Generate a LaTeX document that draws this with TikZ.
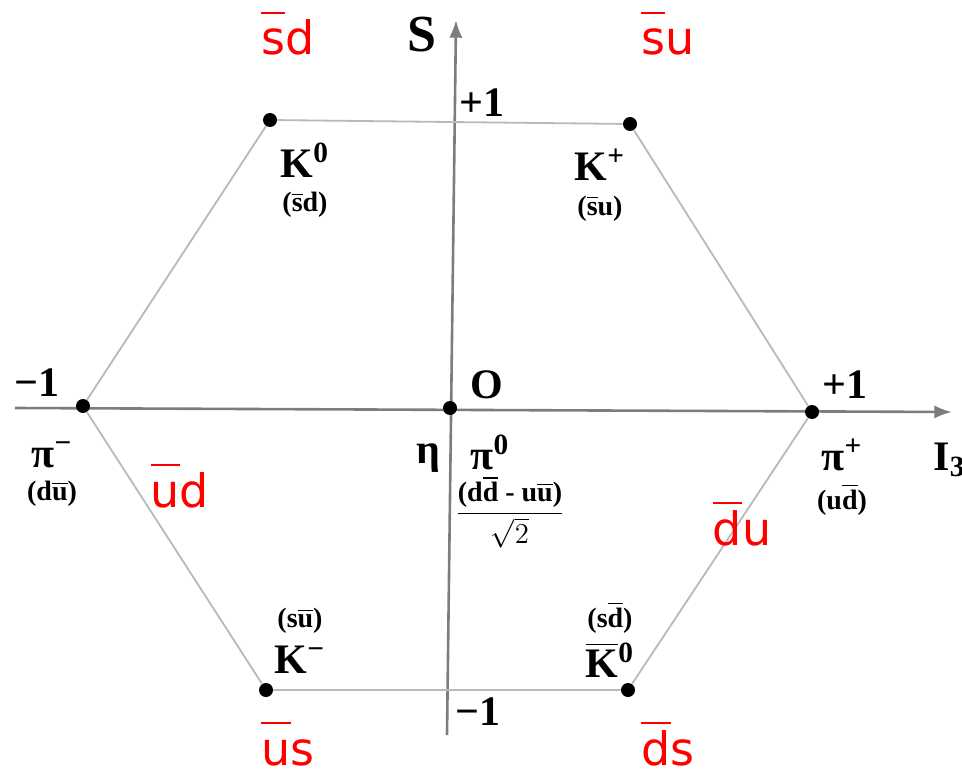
\documentclass[tikz,border=0pt]{standalone}
\usepackage{amsmath}
\usepackage{fontspec}
\setmainfont{Liberation Serif}
\newfontfamily\quarkfont{DejaVu Sans}
\usetikzlibrary{arrows.meta,positioning}
\definecolor{axisgray}{RGB}{125,125,125}
\definecolor{edgegray}{RGB}{185,185,185}
\definecolor{quarkred}{RGB}{255,0,0}
\newcommand\ab[1]{\(\overline{\mbox{#1}}\)}
\newcommand\aq[1]{\(\overline{\vphantom{d}\mbox{#1}}\)}

\begin{document}
\begin{tikzpicture}[x=0.5pt, y=-0.5pt, >=Latex,
  meson/.style={circle, fill=black, inner sep=0pt, minimum size=7pt},
  mname/.style={inner sep=0pt, font=\fontsize{21}{23}\selectfont\bfseries},
  qcont/.style={inner sep=0pt, font=\fontsize{14}{15}\selectfont\bfseries},
  tick/.style={inner sep=0pt, font=\fontsize{21}{23}\selectfont\bfseries},
  flavour/.style={inner sep=0pt, anchor=base, text=quarkred, font=\fontsize{23}{25}\selectfont\quarkfont}]
\useasboundingbox (0,0) rectangle (962,775);
% axes
\coordinate (xl) at (15,408);
\coordinate (xr) at (952,412);
\coordinate (yb) at (447,735);
\coordinate (yt) at (456,20);
\draw[->, axisgray, line width=1.3pt] (xl) -- (xr);
\draw[->, axisgray, line width=1.3pt] (yb) -- (yt);
% mesons
\node[meson] (k0) at (270,120) {};
\node[meson] (kp) at (630,124) {};
\node[meson] (pim) at (83,406) {};
\node[meson] (orig) at (450,408) {};
\node[meson] (pip) at (812,412) {};
\node[meson] (km) at (266,690) {};
\node[meson] (k0b) at (628,690) {};
\draw[edgegray, line width=0.9pt] (k0) -- (kp) -- (pip) -- (k0b) -- (km) -- (pim) -- (k0);
% axis labels
\node[tick, font=\fontsize{26}{28}\selectfont\bfseries] (slbl) at (422,35) {S};
\node[tick] (stop) at (482,103) {+1};
\node[tick] (sbot) at (478,712) {\textminus1};
\node[tick] (ileft) at (37,383) {\textminus1};
\node[tick] (iright) at (845,385) {+1};
\node[tick] (olbl) at (487,385) {O};
\node[tick, anchor=west] (ilbl) at (933,460) {I\textsubscript{3}};
% meson names
\node[mname] (k0n) at (305,160) {K\textsuperscript{0}};
\node[qcont, below=7pt of k0n] {(\ab{s}d)};
\node[mname] (kpn) at (600,165) {K\textsuperscript{+}};
\node[qcont, below=7pt of kpn] {(\ab{s}u)};
\node[mname] (pimn) at (52,455) {π\textsuperscript{\textminus}};
\node[qcont, below=6pt of pimn] {(d\ab{u})};
\node[mname] (pipn) at (842,455) {π\textsuperscript{+}};
\node[qcont, below=6pt of pipn] {(u\ab{d})};
\node[mname] (etan) at (428,458) {η};
\node[mname] (pi0n) at (490,452) {π\textsuperscript{0}};
\node[qcont] (pi0q) at (510,512) {\(\dfrac{\mbox{(d\ab{d} - u\ab{u})}}{\sqrt{2}}\)};
\node[mname] (kmn) at (300,660) {K\textsuperscript{\textminus}};
\node[qcont, above=6pt of kmn] {(s\ab{u})};
\node[mname] (k0bn) at (610,660) {\(\overline{\mbox{K}}\)\textsuperscript{0}};
\node[qcont, above=4pt of k0bn] {(s\ab{d})};
% quark content in red
\node[flavour] (fsd) at (288,55) {\aq{s}d};
\node[flavour] (fsu) at (668,55) {\aq{s}u};
\node[flavour] (fud) at (180,507) {\aq{u}d};
\node[flavour] (fdu) at (742,545) {\aq{d}u};
\node[flavour] (fus) at (288,765) {\aq{u}s};
\node[flavour] (fds) at (668,765) {\aq{d}s};
\end{tikzpicture}
\end{document}
